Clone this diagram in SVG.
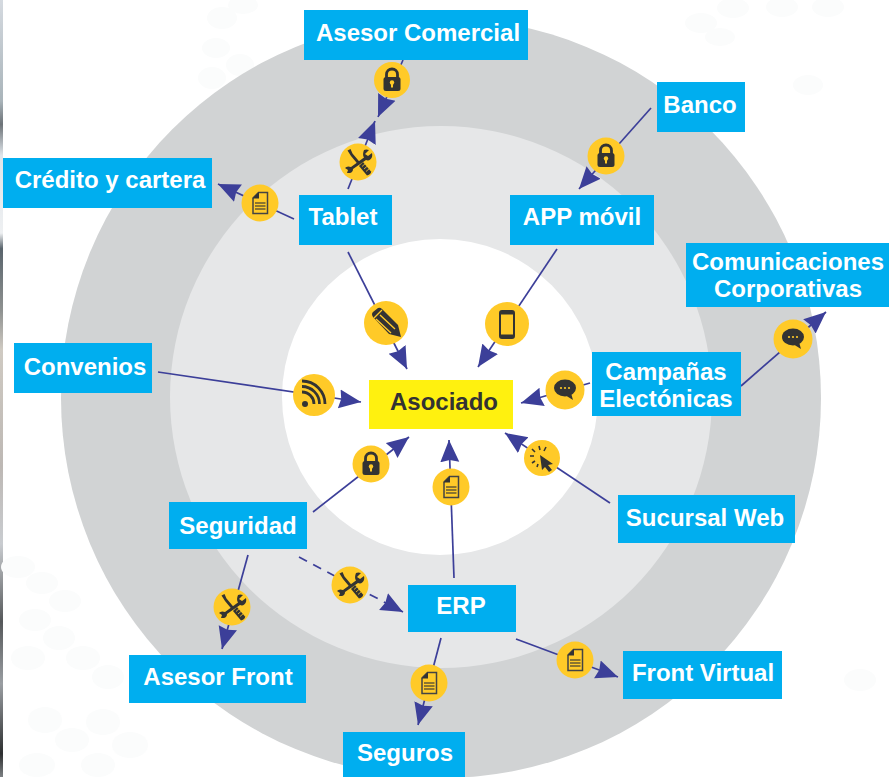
<svg xmlns="http://www.w3.org/2000/svg" width="896" height="777" viewBox="0 0 896 777">
<style>
.box{fill:#00aeef}
.lb{font-family:"Liberation Sans",Arial,sans-serif;font-weight:700;font-size:24px;fill:#fff;text-anchor:middle}
.cn{fill:none;stroke:#3c3f99;stroke-width:1.700}
.ic{fill:#ffca28}
.g{fill:#333}
.d{fill:#fbfcfc}
</style>
<defs>
<linearGradient id="strip" x1="0" y1="0" x2="0" y2="1">
<stop offset="0" stop-color="#d5dae0"/><stop offset=".13" stop-color="#a9b4ba"/><stop offset=".16" stop-color="#6d7378"/><stop offset=".2" stop-color="#dfe5ea"/><stop offset=".3" stop-color="#eef0f2"/><stop offset=".32" stop-color="#59646c"/><stop offset=".4" stop-color="#8f9291"/><stop offset=".45" stop-color="#cfcac2"/><stop offset=".6" stop-color="#bdb8b4"/><stop offset=".7" stop-color="#c9ccd0"/><stop offset=".8" stop-color="#55585a"/><stop offset=".88" stop-color="#9a9ea2"/><stop offset=".97" stop-color="#2d2f30"/><stop offset="1" stop-color="#7d8184"/>
</linearGradient>
<marker id="a" markerUnits="userSpaceOnUse" markerWidth="24" markerHeight="22" refX="22" refY="10" orient="auto"><path d="M0 0.500L22 10L0 19.500L2 10Z" fill="#3c3f99"/></marker>
<g id="lock"><path d="M-5.500-2v-3.500a5.500 5.500 0 0 1 11 0v3.500" fill="none" stroke="#333" stroke-width="2.800"/><rect x="-8.500" y="-3" width="17" height="14" rx="2.500" class="g"/><circle cy="2.500" r="2.200" fill="#ffca28"/><rect x="-1" y="3" width="2" height="4.500" fill="#ffca28"/></g>
<g id="tool">
<path d="M-10.500-11.500L-7.500-13L-5.500-8.500L2.500 1L0.500 3L-7-6Z" class="g"/>
<path d="M1 4L5 0L13 9.500Q13.500 12 9 13.500Z" class="g"/>
<path d="M4 4.500L8 1M6 7L10 3.500M8 9.500L12 6" stroke="#ffca28" stroke-width=".8"/>
<path d="M6-12Q4-7 6-4.500L-7 5Q-11 3.500-13 6L-10 8L-11 11L-8 11Q-5 10-5 7L8-2Q12-0.500 14-5Q14.500-7 14-9L10-6L7-8L11-12Q8-13 6-12Z" class="g"/>
</g>
<g id="doc"><path d="M-7-5L-1.500-10.500H7.500V10.500H-7Z" fill="none" stroke="#444" stroke-width="1.500"/><path d="M-7.500-4.500L-1-11V-4.500Z" fill="#333"/><path d="M-5 0H5.500M-5 3H5.500M-5 6H5.500" stroke="#665a32" stroke-width="1.300"/></g>
<g id="chat"><ellipse cy="-2" rx="11" ry="8.500" class="g"/><path d="M0 5L8 10L6 3Z" class="g"/><circle cx="-4" cy="-2" r="1.100" fill="#ffca28"/><circle cy="-2" r="1.100" fill="#ffca28"/><circle cx="4" cy="-2" r="1.100" fill="#ffca28"/></g>
</defs>
<rect width="896" height="777" fill="#fff"/>
<rect width="3" height="777" fill="url(#strip)"/>
<g class="d">
<ellipse cx="18" cy="567" rx="17" ry="11"/><ellipse cx="42" cy="583" rx="16" ry="11"/><ellipse cx="65" cy="601" rx="16" ry="11"/><ellipse cx="35" cy="620" rx="16" ry="11"/><ellipse cx="59" cy="638" rx="16" ry="12"/><ellipse cx="28" cy="658" rx="17" ry="12"/><ellipse cx="83" cy="658" rx="17" ry="12"/><ellipse cx="108" cy="677" rx="16" ry="12"/><ellipse cx="45" cy="720" rx="17" ry="13"/><ellipse cx="103" cy="722" rx="17" ry="13"/><ellipse cx="72" cy="740" rx="17" ry="12"/><ellipse cx="130" cy="745" rx="18" ry="13"/><ellipse cx="37" cy="765" rx="18" ry="12"/><ellipse cx="98" cy="765" rx="17" ry="12"/><ellipse cx="222" cy="18" rx="15" ry="11"/><ellipse cx="243" cy="5" rx="15" ry="9"/><ellipse cx="216" cy="48" rx="14" ry="10"/><ellipse cx="240" cy="65" rx="14" ry="11"/><ellipse cx="212" cy="78" rx="14" ry="11"/><ellipse cx="733" cy="8" rx="16" ry="10"/><ellipse cx="782" cy="7" rx="16" ry="10"/><ellipse cx="828" cy="7" rx="16" ry="10"/><ellipse cx="701" cy="23" rx="16" ry="10"/><ellipse cx="808" cy="85" rx="15" ry="10"/><ellipse cx="720" cy="37" rx="15" ry="9"/><ellipse cx="860" cy="680" rx="16" ry="11"/>
</g>
<circle cx="441" cy="398" r="380" fill="#d1d3d4"/>
<circle cx="441" cy="397" r="271" fill="#e6e7e8"/>
<circle cx="440" cy="397" r="158" fill="#fff"/>
<g id="connectors">
<path class="cn" marker-end="url(#a)" d="M403 60L378 117"/>
<path class="cn" marker-end="url(#a)" d="M348 189L375 121"/>
<path class="cn" marker-end="url(#a)" d="M294 219L218 184"/>
<path class="cn" marker-end="url(#a)" d="M651 108L579 189"/>
<path class="cn" marker-end="url(#a)" d="M348 252L407 369"/>
<path class="cn" marker-end="url(#a)" d="M557 249L478 367"/>
<path class="cn" marker-end="url(#a)" d="M158 372L361 402"/>
<path class="cn" marker-end="url(#a)" d="M590 383L521 403"/>
<path class="cn" marker-end="url(#a)" d="M741 386L826 312"/>
<path class="cn" marker-end="url(#a)" d="M610 503L505 433"/>
<path class="cn" marker-end="url(#a)" d="M313 512L409 437"/>
<path class="cn" marker-end="url(#a)" d="M454 578L449 440"/>
<path class="cn" marker-end="url(#a)" d="M248 555L222 649"/>
<path class="cn" marker-end="url(#a)" stroke-dasharray="9 7" d="M299 557L403 612"/>
<path class="cn" marker-end="url(#a)" d="M441 638L418 725"/>
<path class="cn" marker-end="url(#a)" d="M516 639L618 677"/>
</g>
<g id="icons">
<g id="i-lock1" transform="translate(392 80)"><circle class="ic" r="18"/><use href="#lock"/></g>
<g id="i-tool1" transform="translate(358 162)"><circle class="ic" r="18.500"/><use href="#tool"/></g>
<g id="i-doc1" transform="translate(260 203)"><circle class="ic" r="18.500"/><use href="#doc"/></g>
<g id="i-lock2" transform="translate(606 156)"><circle class="ic" r="18.500"/><use href="#lock"/></g>
<g id="i-pencil" transform="translate(386 323)"><circle class="ic" r="22"/><path d="M-13-11L-8-15Q-6-16-4-14L12 2L15 14L3 11L-13-6Q-15-9-13-11Z" class="g"/><path d="M-10-4L5 10M-6-8L9 6" stroke="#ffca28" stroke-width="1.400"/><path d="M-12-5L-4-13" stroke="#ffca28" stroke-width="1.200"/></g>
<g id="i-phone" transform="translate(507 324)"><circle class="ic" r="22"/><rect x="-7" y="-13" width="14" height="27" rx="2" fill="none" stroke="#333" stroke-width="2"/><rect x="-7" y="-13" width="14" height="3.500" class="g"/><rect x="-7" y="10.500" width="14" height="3.500" class="g"/></g>
<g id="i-rss" transform="translate(314 395)"><circle class="ic" r="21"/><circle cx="-9" cy="9" r="3" class="g"/><path d="M-12-3A12 12 0 0 1 0 9M-12-8.500A17.500 17.500 0 0 1 5.500 9M-12-14A23 23 0 0 1 11 9" fill="none" stroke="#333" stroke-width="2.800"/></g>
<g id="i-chat1" transform="translate(565 390)"><circle class="ic" r="19.500"/><use href="#chat"/></g>
<g id="i-chat2" transform="translate(793 339)"><circle class="ic" r="19.500"/><use href="#chat"/></g>
<g id="i-lock3" transform="translate(371 464)"><circle class="ic" r="18.500"/><use href="#lock"/></g>
<g id="i-doc2" transform="translate(451 487)"><circle class="ic" r="18.500"/><use href="#doc"/></g>
<g id="i-cursor" transform="translate(542 458)"><circle class="ic" r="18"/><path d="M-2-3L11 6L6 7L10 12L7 14L3 9L0 12Z" class="g"/><path d="M-3-12L-2-8M-10-9L-7-6M-12-2L-8-2M-10 5L-7 3M4-11L2-7M-4 6L-5 9" stroke="#333" stroke-width="1.600"/></g>
<g id="i-tool2" transform="translate(350 585)"><circle class="ic" r="18.500"/><use href="#tool"/></g>
<g id="i-tool3" transform="translate(232 607)"><circle class="ic" r="18.500"/><use href="#tool"/></g>
<g id="i-doc3" transform="translate(429 683)"><circle class="ic" r="18.500"/><use href="#doc"/></g>
<g id="i-doc4" transform="translate(575 660)"><circle class="ic" r="18.500"/><use href="#doc"/></g>
</g>
<g id="n-asesor-comercial"><rect class="box" x="304" y="10" width="224" height="50"/><text class="lb" x="418" y="41">Asesor Comercial</text></g>
<g id="n-banco"><rect class="box" x="657" y="82" width="88" height="50"/><text class="lb" x="700" y="113">Banco</text></g>
<g id="n-credito"><rect class="box" x="3" y="158" width="209" height="50"/><text class="lb" x="110" y="188">Crédito y cartera</text></g>
<g id="n-tablet"><rect class="box" x="299" y="195" width="93" height="50"/><text class="lb" x="343" y="225">Tablet</text></g>
<g id="n-app"><rect class="box" x="510" y="195" width="144" height="50"/><text class="lb" x="582" y="225">APP móvil</text></g>
<g id="n-comunicaciones"><rect class="box" x="686" y="243" width="203" height="64"/><text class="lb" x="788" y="270">Comunicaciones</text><text class="lb" x="788" y="297">Corporativas</text></g>
<g id="n-convenios"><rect class="box" x="14" y="343" width="138" height="50"/><text class="lb" x="85" y="375">Convenios</text></g>
<g id="n-campanas"><rect class="box" x="592" y="352" width="149" height="64"/><text class="lb" x="666" y="380">Campañas</text><text class="lb" x="666" y="407">Electónicas</text></g>
<g id="n-asociado"><rect x="369" y="380" width="144" height="49" fill="#fff10f"/><text class="lb" x="444" y="410" style="fill:#333">Asociado</text></g>
<g id="n-seguridad"><rect class="box" x="169" y="502" width="138" height="47"/><text class="lb" x="238" y="534">Seguridad</text></g>
<g id="n-sucursal"><rect class="box" x="618" y="495" width="177" height="48"/><text class="lb" x="705" y="526">Sucursal Web</text></g>
<g id="n-erp"><rect class="box" x="408" y="585" width="108" height="47"/><text class="lb" x="461" y="614">ERP</text></g>
<g id="n-asesor-front"><rect class="box" x="129" y="655" width="177" height="48"/><text class="lb" x="218" y="685">Asesor Front</text></g>
<g id="n-front-virtual"><rect class="box" x="623" y="651" width="159" height="48"/><text class="lb" x="703" y="681">Front Virtual</text></g>
<g id="n-seguros"><rect class="box" x="343" y="732" width="122" height="45"/><text class="lb" x="405" y="761">Seguros</text></g>
</svg>
